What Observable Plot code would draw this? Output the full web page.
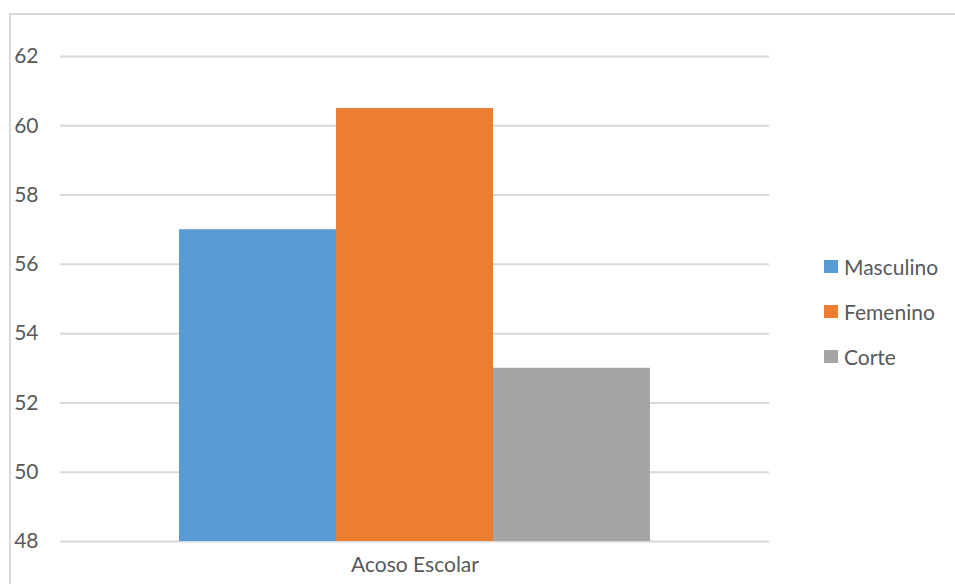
<!DOCTYPE html>
<html>
<head>
<meta charset="utf-8">
<script src="https://cdn.jsdelivr.net/npm/d3@7"></script>
<script src="https://cdn.jsdelivr.net/npm/@observablehq/plot@0.6"></script>
<style>
  html, body { margin: 0; padding: 0; background: #ffffff; overflow: hidden; }
  #wrap { position: relative; width: 955px; height: 584px; font-family: Lato, "Open Sans", sans-serif; }
  #box { position: absolute; left: 9px; top: 13px; width: 980px; height: 620px;
         border: 2px solid #D9D9D9; box-sizing: border-box; pointer-events: none; }
  #legend { position: absolute; left: 824px; top: 244px; display: flex; flex-direction: column; gap: 0; }
  .item { display: flex; align-items: center; height: 45px; font-size: 21px; color: #595959; }
  .sw { width: 14px; height: 13px; margin-right: 6px; }
</style>
</head>
<body>
<div id="wrap">
  <div id="chart"></div>
  <div id="legend"></div>
  <div id="box"></div>
</div>
<script>
// Categories, series and values
const categories = ["Acoso Escolar"];
const series = ["Masculino", "Femenino", "Corte"];
const values = [57, 60.5, 53];
const colors = ["#5B9BD5", "#ED7D31", "#A5A5A5"];
const yTicks = [48, 50, 52, 54, 56, 58, 60, 62];
const yMin = 48;
const yMax = 62;

const data = series.map((s, i) => ({ category: categories[0], series: s, value: values[i] }));

const chart = Plot.plot({
  width: 955,
  height: 584,
  marginLeft: 60,
  marginRight: 186,
  marginTop: 56,
  marginBottom: 43,
  x: { domain: series, paddingInner: 0, paddingOuter: 0.75, axis: null },
  y: { domain: [yMin, yMax], axis: null },
  color: { domain: series, range: colors },
  style: { fontFamily: "Lato, 'Open Sans', sans-serif", fontSize: "21px", color: "#595959", background: "transparent", overflow: "visible" },
  marks: [
    Plot.gridY(yTicks, { stroke: "#D9D9D9", strokeOpacity: 1, strokeWidth: 2 }),
    Plot.barY(data, { x: "series", y1: yMin, y2: "value", fill: "series" }),
    Plot.axisY(yTicks, { tickSize: 0, tickPadding: 22, textAnchor: "end", label: null, fill: "#595959", fontSize: 21 }),
    Plot.text(categories, { frameAnchor: "bottom", dy: 30, text: d => d, fill: "#595959", fontSize: 21 })
  ]
});
document.getElementById("chart").appendChild(chart);

// Legend on the right
const legend = document.getElementById("legend");
series.forEach((s, i) => {
  const item = document.createElement("div");
  item.className = "item";
  const sw = document.createElement("span");
  sw.className = "sw";
  sw.style.background = colors[i];
  const label = document.createElement("span");
  label.textContent = s;
  item.appendChild(sw);
  item.appendChild(label);
  legend.appendChild(item);
});
</script>
</body>
</html>
